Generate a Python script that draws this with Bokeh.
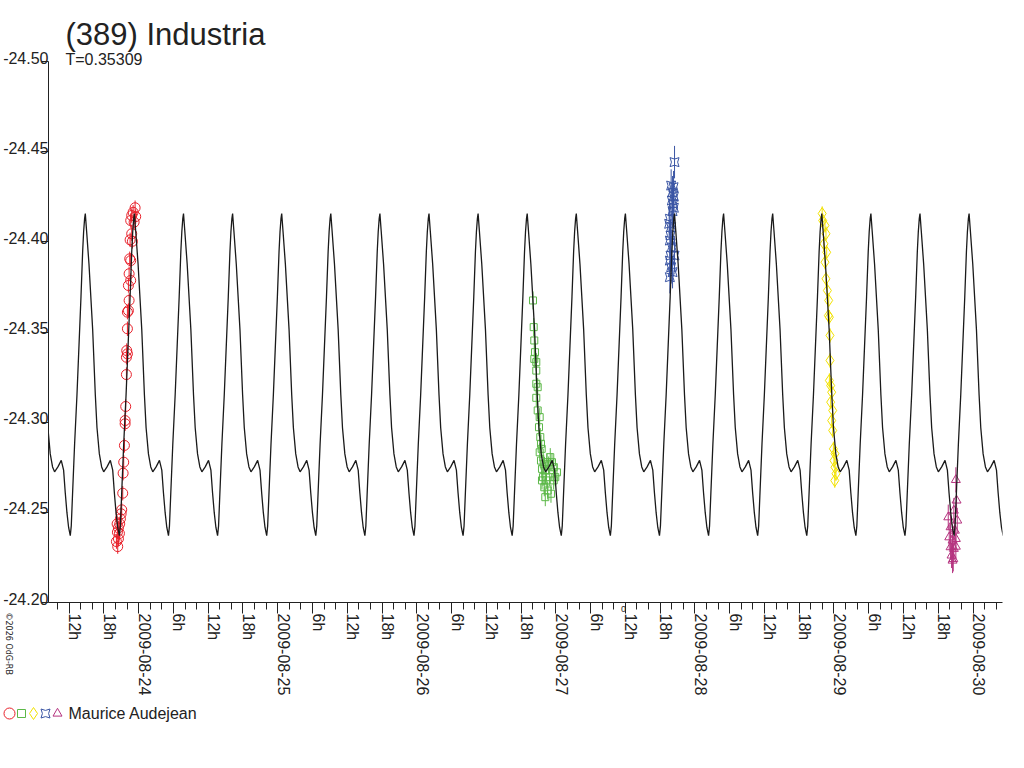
import math
from bokeh.plotting import figure
from bokeh.layouts import column
from bokeh.models import (Range1d, FixedTicker, ColumnDataSource, Label, LinearAxis,
                          CustomJSTickFormatter)
from bokeh.core.properties import value
from bokeh.embed import file_html
from bokeh.resources import INLINE

# ---------------- data ----------------
TITLE = "(389) Industria"
PERIOD = 0.35309          # days
EPOCH = 27.5              # day of August 2009 (UT) of phase zero (maximum)
OBSERVER = "Maurice Audejean"
COPYRIGHT = "\u00a92026 OdG-RB"

# model light curve over one period: phase, magnitude
shape_phase = [0.000, 0.027, 0.075, 0.150, 0.204, 0.238, 0.286, 0.333, 0.374, 0.442,
               0.510, 0.558, 0.592, 0.626, 0.660, 0.694, 0.714, 0.741, 0.782, 0.830,
               0.871, 0.912, 0.946, 0.966, 0.986]
shape_mag = [-24.4157, -24.4057, -24.3876, -24.3513, -24.3151, -24.2969, -24.2824, -24.2752,
             -24.2725, -24.2752, -24.2788, -24.2734, -24.2607, -24.2498, -24.2416, -24.2371,
             -24.2425, -24.2607, -24.2879, -24.3151, -24.3423, -24.3695, -24.3948, -24.4057,
             -24.4130]

# observations: day of August 2009 (UT), magnitude
red_day = [23.9741, 23.9598, 23.9497, 23.9784, 23.9425, 23.9670, 23.9497, 23.9382, 23.9547,
           23.9353, 23.9425, 23.9310, 23.9425, 23.9260, 23.9310, 23.9260, 23.9188, 23.9188,
           23.9138, 23.9188, 23.9116, 23.9116, 23.9066, 23.9023, 23.9023, 23.8973, 23.8922,
           23.8879, 23.8851, 23.8779, 23.8736, 23.8685, 23.8635, 23.8542, 23.8448, 23.8470,
           23.8542, 23.8491, 23.8614, 23.8398]
red_mag = [-24.4189, -24.4164, -24.4146, -24.4140, -24.4118, -24.4109, -24.4045, -24.4011,
           -24.4003, -24.3906, -24.3896, -24.3823, -24.3786, -24.3758, -24.3675, -24.3619,
           -24.3610, -24.3518, -24.3397, -24.3379, -24.3360, -24.3264, -24.3087, -24.3009,
           -24.2991, -24.2871, -24.2778, -24.2717, -24.2606, -24.2514, -24.2492, -24.2464,
           -24.2436, -24.2414, -24.2436, -24.2390, -24.2353, -24.2310, -24.2383, -24.2338]
red_err = 0.004

green_day = [26.8355, 26.8405, 26.8448, 26.8499, 26.8448, 26.8592, 26.8592, 26.8592, 26.8693,
             26.8592, 26.8693, 26.8836, 26.8786, 26.8879, 26.8929, 26.8980, 26.8836, 26.8929,
             26.9124, 26.9001, 26.9239, 26.9361, 26.9483, 26.9598, 26.9720, 26.9842, 26.9073,
             26.9310, 26.9555, 26.9167, 26.9411, 26.9842, 26.9957, 26.9239, 26.9648, 27.0079,
             26.9001]
green_mag = [-24.3675, -24.3527, -24.3453, -24.3388, -24.3351, -24.3333, -24.3286, -24.3213,
             -24.3194, -24.3135, -24.3065, -24.3028, -24.2972, -24.2917, -24.2880, -24.2852,
             -24.2833, -24.2787, -24.2769, -24.2741, -24.2732, -24.2778, -24.2760, -24.2806,
             -24.2778, -24.2750, -24.2695, -24.2677, -24.2695, -24.2639, -24.2621, -24.2677,
             -24.2695, -24.2584, -24.2603, -24.2722, -24.2677]
green_err = 0.005

blue_day = [27.8534, 27.8290, 27.8463, 27.8391, 27.8484, 27.8341, 27.8434, 27.8484, 27.8391,
            27.8197, 27.8147, 27.8290, 27.8247, 27.8197, 27.8341, 27.8247, 27.8534, 27.8197,
            27.8290, 27.8391, 27.8197]
blue_mag = [-24.4442, -24.4312, -24.4303, -24.4275, -24.4251, -24.4229, -24.4211, -24.4189,
            -24.4170, -24.4128, -24.4100, -24.4081, -24.4035, -24.4007, -24.3970, -24.3924,
            -24.3924, -24.3896, -24.3859, -24.3832, -24.3804]
blue_err = 0.009

yellow_day = [28.9151, 28.9188, 28.9353, 28.9425, 28.9282, 28.9476, 28.9353, 28.9425, 28.9526,
              28.9619, 28.9598, 28.9670, 28.9713, 28.9713, 28.9670, 28.9763, 28.9835, 28.9763,
              28.9907, 28.9835, 28.9907, 28.9957, 29.0072, 29.0000, 29.0072, 29.0144, 29.0057]
yellow_mag = [-24.4157, -24.4118, -24.4091, -24.4045, -24.3989, -24.3942, -24.3887, -24.3795,
              -24.3730, -24.3675, -24.3591, -24.3582, -24.3481, -24.3342, -24.3231, -24.3203,
              -24.3166, -24.3111, -24.3065, -24.3009, -24.2954, -24.2852, -24.2825, -24.2787,
              -24.2750, -24.2714, -24.2676]
yellow_err = 0.004

magenta_day = [29.8764, 29.8815, 29.8621, 29.8865, 29.8218, 29.8384, 29.8693, 29.8290, 29.8527,
               29.8764, 29.8384, 29.8621, 29.8764, 29.8455, 29.8578, 29.8527]
magenta_mag = [-24.2680, -24.2566, -24.2510, -24.2455, -24.2473, -24.2418, -24.2399, -24.2362,
               -24.2344, -24.2353, -24.2307, -24.2298, -24.2310, -24.2261, -24.2242, -24.2233]
magenta_err = 0.007

y_ticks = [-24.50, -24.45, -24.40, -24.35, -24.30, -24.25, -24.20]
X_START, X_END = 23.3513, 30.2119          # day of August 2009 at the frame edges
Y_BOTTOM, Y_AXIS_TOP, Y_FRAME_TOP = -24.20, -24.50, -24.50222

# ---------------- styles ----------------
FONT = "Liberation Sans"
TXT = "#222222"
XLAB_SHIFT = 0.0395   # days: tick labels sit just right of their tick
YLAB_SHIFT = 0.0022   # mag: tick labels sit just above their tick
series = [
    (red_day, red_mag, red_err, "circle", 10, "#e8202a"),
    (green_day, green_mag, green_err, "square", 7, "#5cb848"),
    (yellow_day, yellow_mag, yellow_err, "diamond", 12, "#f2e200"),
    (blue_day, blue_mag, blue_err, "square_pin", 9, "#3a55a4"),
    (magenta_day, magenta_mag, magenta_err, "triangle", 9, "#b5337f"),
]
key_sizes = [11, 8, 12, 9, 9]
key_x = [9, 21, 33, 45, 57]     # legend strip layout (px)
KEY_Y, KEY_TEXT_X = 11, 68

p = figure(width=1016, height=702, output_backend="svg", toolbar_location=None,
           x_range=Range1d(X_START, X_END), y_range=Range1d(Y_BOTTOM, Y_FRAME_TOP),
           min_border_left=46, min_border_top=57, min_border_bottom=100, min_border_right=0)
p.outline_line_color = None
p.grid.visible = False
p.background_fill_color = "white"
p.border_fill_color = "white"

# ---- x axis: ticks every 2 h, long ticks every 6 h; labels on a second axis
minor = [k / 12 for k in range(math.ceil(X_START * 12), math.floor(X_END * 12) + 1)]
major = [k / 4 for k in range(math.ceil(X_START * 4), math.floor(X_END * 4) + 1)]
xa = p.xaxis[0]
xa.ticker = FixedTicker(ticks=major, minor_ticks=minor)
xa.formatter = CustomJSTickFormatter(code="return ''")
xa.major_label_text_font_size = "1px"
xa.major_label_standoff = 0
xa.major_tick_out, xa.major_tick_in = 11, 0
xa.minor_tick_out, xa.minor_tick_in = 7, 0

xlab_code = """
const v = tick - off;
const d = Math.floor(v + 1e-6);
const h = Math.round((v - d) * 24);
if (h === 0) { return "2009-08-" + (d < 10 ? "0" + d : "" + d); }
return h + "h";
"""
xa2 = LinearAxis(ticker=FixedTicker(ticks=[t + XLAB_SHIFT for t in major], minor_ticks=[]),
                 formatter=CustomJSTickFormatter(args=dict(off=XLAB_SHIFT), code=xlab_code),
                 axis_line_color=None, major_tick_line_color=None, minor_tick_line_color=None,
                 major_tick_out=0, major_tick_in=0, minor_tick_out=0, minor_tick_in=0,
                 major_label_standoff=0, major_label_orientation=-math.pi / 2,
                 major_label_text_font=FONT, major_label_text_font_size="16px",
                 major_label_text_color=TXT)
p.add_layout(xa2, "below")

# ---- y axis: ticks only on the first axis, labels on a second one
ya = p.yaxis[0]
ya.ticker = FixedTicker(ticks=y_ticks, minor_ticks=[])
ya.formatter = CustomJSTickFormatter(code="return ''")
ya.major_label_text_font_size = "1px"
ya.major_label_standoff = 0
ya.bounds = (Y_AXIS_TOP, Y_BOTTOM)
ya.major_tick_out, ya.major_tick_in = 7, 0
ya.minor_tick_out, ya.minor_tick_in = 0, 0

ya2 = LinearAxis(ticker=FixedTicker(ticks=[v - YLAB_SHIFT for v in y_ticks], minor_ticks=[]),
                 formatter=CustomJSTickFormatter(args=dict(off=YLAB_SHIFT),
                                                 code="return (tick + off).toFixed(2);"),
                 axis_line_color=None, major_tick_line_color=None, minor_tick_line_color=None,
                 major_tick_out=0, major_tick_in=0, minor_tick_out=0, minor_tick_in=0,
                 major_label_standoff=-7, major_label_text_font=FONT,
                 major_label_text_font_size="16px", major_label_text_color=TXT)
p.add_layout(ya2, "left")

for ax in (xa, ya):
    ax.axis_line_color = TXT
    ax.major_tick_line_color = TXT
    ax.minor_tick_line_color = TXT

# ---- observations with error bars
for day, mag, err, marker, size, color in series:
    src = ColumnDataSource(dict(x=day, y=mag, lo=[m - err for m in mag], hi=[m + err for m in mag]))
    p.segment(x0="x", y0="lo", x1="x", y1="hi", source=src, line_color=color, line_width=1)
    p.scatter(x="x", y="y", source=src, marker=marker, size=size, fill_color=None,
              line_color=color, line_width=1)

# ---- model curve tiled over the whole range
n0 = int(math.floor((X_START - EPOCH) / PERIOD)) - 1
n1 = int(math.ceil((X_END - EPOCH) / PERIOD)) + 1
cx, cy = [], []
for n in range(n0, n1 + 1):
    for ph, m in zip(shape_phase, shape_mag):
        cx.append(EPOCH + (n + ph) * PERIOD)
        cy.append(m)
p.line(cx, cy, line_color="#1a1a1a", line_width=1.3)

# ---- texts (in side panels so that the frame does not clip them)
p.add_layout(Label(x=X_START, y=Y_AXIS_TOP, x_offset=17, y_offset=27, text=TITLE,
                   text_font=FONT, text_font_size="31px", text_color=TXT,
                   text_align="left", text_baseline="alphabetic"), "above")
p.add_layout(Label(x=X_START, y=Y_AXIS_TOP, x_offset=17, y_offset=2, text="T=%s" % PERIOD,
                   text_font=FONT, text_font_size="16px", text_color=TXT,
                   text_align="left", text_baseline="alphabetic"), "above")
p.add_layout(Label(x=X_START, y=Y_BOTTOM, x_offset=-40, y_offset=-10, text=COPYRIGHT,
                   angle=-math.pi / 2, text_font="DejaVu Sans", text_font_size="8px",
                   text_color=TXT, text_align="left", text_baseline="middle"), "right")
p.add_layout(Label(x=EPOCH, y=Y_BOTTOM, x_offset=-2, y_offset=-6, text="0",
                   text_font=FONT, text_font_size="9px", text_color=TXT,
                   text_align="center", text_baseline="middle"), "right")

# ---- legend strip: observer symbols then name
leg = figure(width=1016, height=50, output_backend="svg", toolbar_location=None,
             x_range=Range1d(0, 1016), y_range=Range1d(50, 0),
             x_axis_location=None, y_axis_location=None,
             min_border_left=0, min_border_right=0, min_border_top=0, min_border_bottom=0)
leg.outline_line_color = None
leg.grid.visible = False
for (day, mag, err, marker, size, color), kx, ks in zip(series, key_x, key_sizes):
    leg.scatter(x=[kx], y=[KEY_Y], marker=marker, size=ks, fill_color=None,
                line_color=color, line_width=1)
leg.text(x=[KEY_TEXT_X], y=[KEY_Y], text=[OBSERVER], text_font=value(FONT),
         text_font_size="16px", text_color=TXT, text_align="left", text_baseline="middle")

for fig in (p, leg):
    try:
        fig.frame_align = False
    except (AttributeError, ValueError):
        pass

layout = column(p, leg, spacing=0)
open("out.html", "w").write(file_html(layout, INLINE))
